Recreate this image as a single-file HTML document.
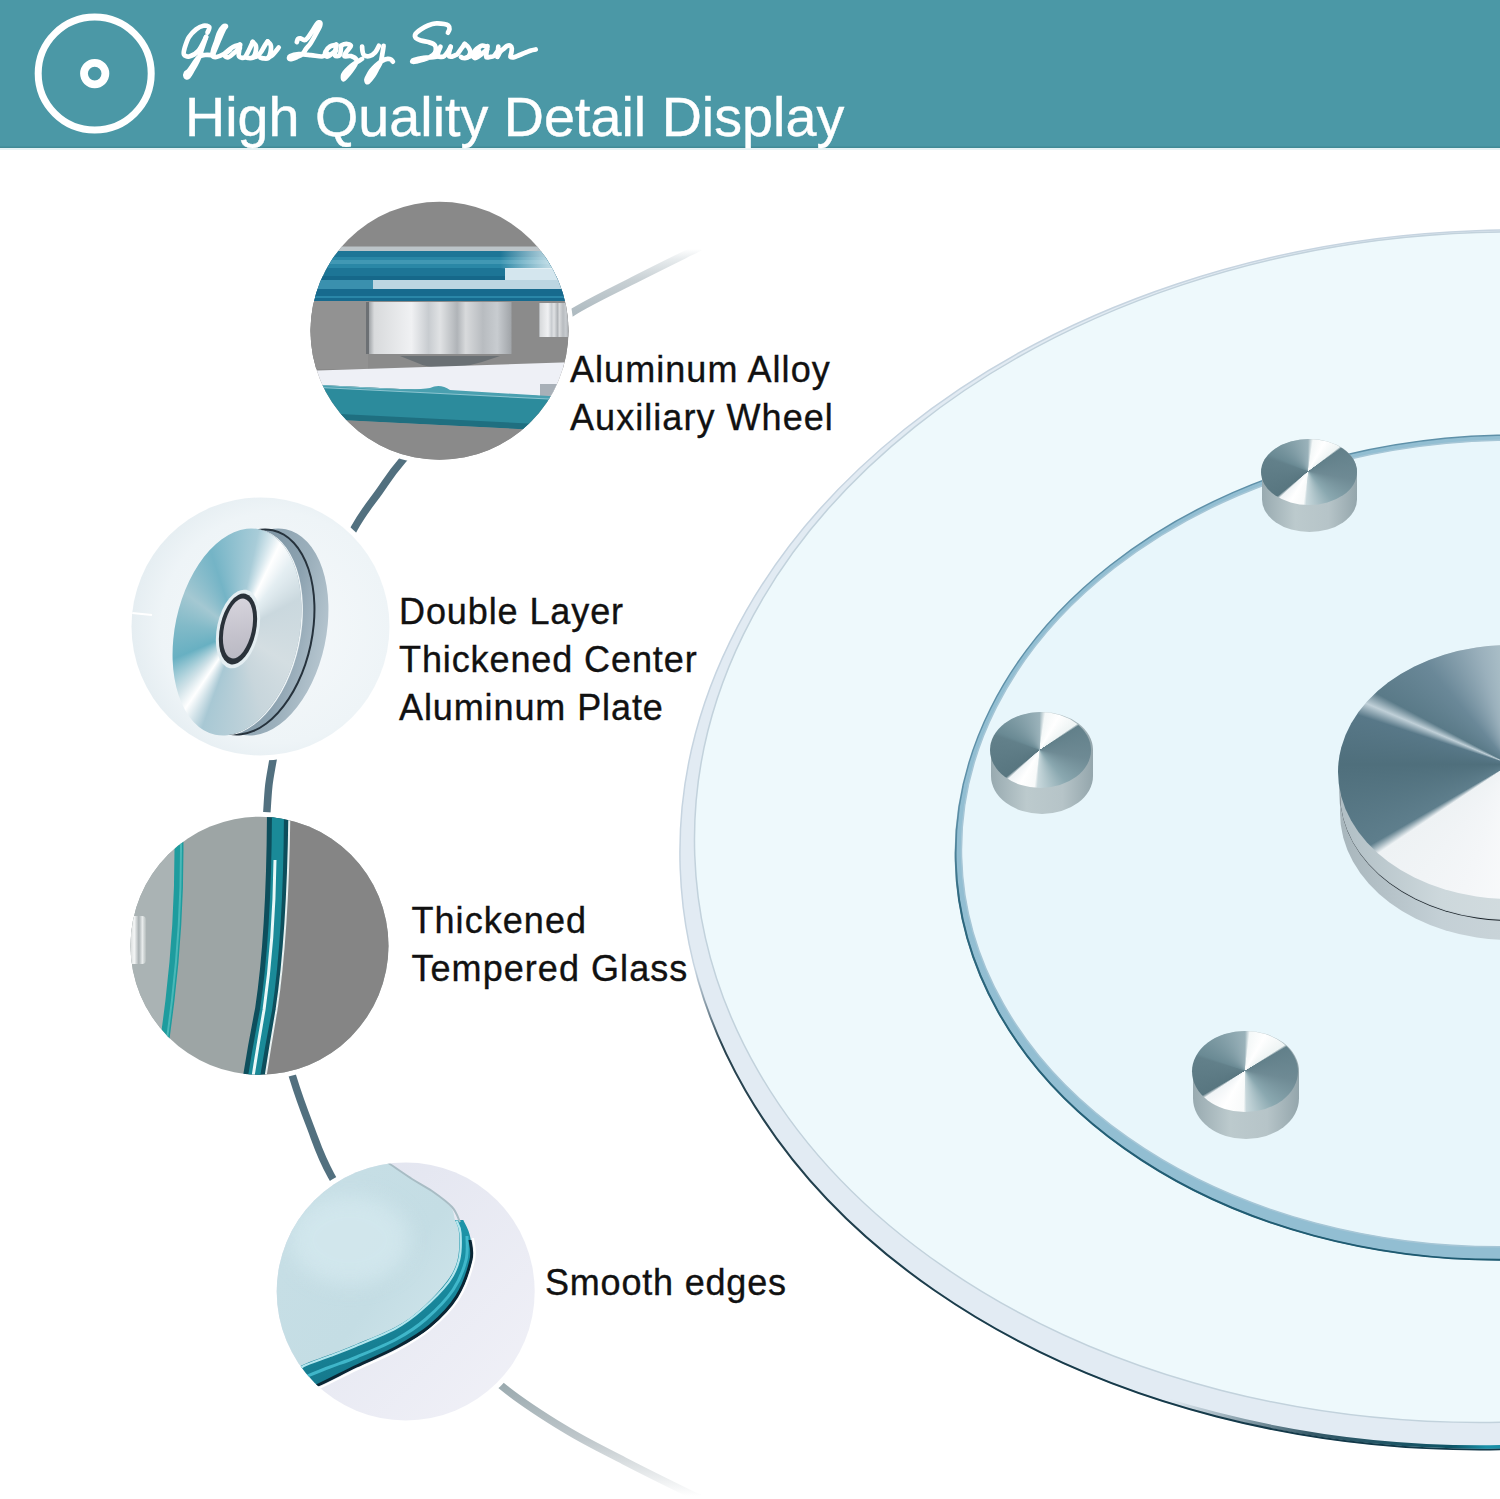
<!DOCTYPE html>
<html><head><meta charset="utf-8">
<style>
html,body{margin:0;padding:0;background:#fff;}
body{width:1500px;height:1499px;position:relative;overflow:hidden;font-family:"Liberation Sans",sans-serif;}
#hdr{position:absolute;left:0;top:0;width:1500px;height:148px;background:#4b98a6;box-shadow:inset 0 -1.5px 0 #418a96;}
#hdrline{position:absolute;left:0;top:148px;width:1500px;height:1.5px;background:#e6f2f4;}
#title{position:absolute;left:185px;top:85px;font-size:55.7px;color:#fff;white-space:nowrap;line-height:64px;-webkit-text-stroke:0.4px #fff;}
svg{position:absolute;left:0;top:0;}
.lbl{position:absolute;font-size:36px;color:#111;white-space:nowrap;line-height:48px;letter-spacing:0.8px;-webkit-text-stroke:0.35px #111;}
.el{position:absolute;border-radius:50%;}
</style></head>
<body>
<div id="hdr"></div>
<div id="hdrline"></div>
<svg width="1500" height="148" viewBox="0 0 1500 148" style="top:0">
  <circle cx="94.7" cy="73.6" r="56.5" fill="none" stroke="#fff" stroke-width="7"/>
  <circle cx="94.7" cy="73.6" r="10.7" fill="none" stroke="#fff" stroke-width="7.8"/>
  <g id="script" fill="none" stroke="#fff" stroke-width="4.7" stroke-linecap="round" stroke-linejoin="round"><path d="M207.5 32.5 C207.8 31.6 210.0 28.2 209.3 27.1 C208.6 26.0 205.6 25.3 203.4 25.7 C201.2 26.1 198.5 27.4 196.1 29.3 C193.7 31.2 190.9 34.0 189.0 37.0 C187.1 40.0 185.7 44.6 184.8 47.5 C184.0 50.4 183.2 52.8 183.9 54.3 C184.7 55.8 186.9 57.1 189.3 56.5 C191.7 55.9 195.6 54.0 198.4 50.7 C201.2 47.5 204.8 39.3 206.1 37.0"/><path d="M206.1 37.0 C205.4 39.0 203.4 45.0 202.0 49.0 C200.6 53.0 199.2 57.4 197.5 61.1 C195.8 64.8 193.6 68.3 192.0 71.0 C190.4 73.7 189.1 76.1 188.0 77.0 C186.9 77.9 186.0 77.2 185.7 76.5 C185.4 75.8 185.4 74.0 186.0 73.0 C186.6 72.0 187.2 72.8 189.3 70.2 C191.4 67.6 195.8 60.0 198.4 57.5 C201.0 55.0 202.5 55.4 205.0 55.0 C207.5 54.6 212.0 55.2 213.4 55.2"/><path d="M212.5 55.6 C213.6 53.1 216.9 45.1 218.8 40.7 C220.7 36.3 222.8 31.4 224.0 29.0 C225.2 26.6 226.1 26.6 226.0 26.2 C225.9 25.8 224.6 25.5 223.4 26.6 C222.2 27.7 220.2 30.6 219.0 33.0 C217.8 35.4 217.4 38.0 216.5 40.7 C215.6 43.4 214.2 46.5 213.5 49.0 C212.8 51.5 212.0 54.3 212.5 55.6 C213.0 56.9 214.7 57.2 216.5 57.0 C218.3 56.8 221.2 55.5 223.4 54.3 C225.7 53.1 228.9 50.7 230.0 50.0"/><path d="M239.9 44.9 C238.8 45.2 235.2 45.8 233.0 47.0 C230.8 48.2 227.9 50.6 226.5 52.0 C225.1 53.4 224.3 54.7 224.6 55.6 C224.9 56.5 226.8 57.7 228.4 57.3 C230.0 56.9 232.1 54.6 234.0 53.0 C235.9 51.4 238.9 48.8 239.9 47.9"/><path d="M240.2 44.5 C240.0 45.6 239.3 49.0 239.1 51.0 C238.9 53.0 238.2 55.5 239.1 56.5 C240.0 57.5 242.9 58.4 244.6 57.3 C246.2 56.2 247.7 52.5 249.0 50.0 C250.3 47.5 252.1 43.3 252.7 42.0"/><path d="M252.7 42.0 C253.2 42.5 254.9 43.9 255.5 45.0 C256.1 46.1 256.2 47.0 256.1 48.5 C256.0 50.0 255.6 52.5 255.0 54.0 C254.4 55.5 253.9 57.0 252.7 57.7 C251.5 58.4 249.1 58.1 248.0 58.0 C246.9 57.9 246.2 57.4 245.9 57.3"/><path d="M253.0 57.2 C253.7 57.0 255.7 57.1 257.0 56.2 C258.3 55.3 259.8 53.7 261.0 52.0 C262.2 50.3 263.4 47.8 264.5 46.0 C265.6 44.2 267.1 42.2 267.6 41.5"/><path d="M267.6 41.5 C268.1 42.0 269.9 43.3 270.5 44.5 C271.1 45.7 271.1 46.9 271.0 48.5 C270.9 50.1 270.5 52.4 270.0 54.0 C269.5 55.6 269.3 57.5 268.1 58.2 C266.9 58.9 264.3 58.4 263.0 58.3 C261.7 58.2 260.8 57.8 260.4 57.7"/><path d="M268.5 57.2 C269.1 56.9 270.8 56.5 272.0 55.5 C273.2 54.5 274.9 52.3 276.0 51.0 C277.1 49.7 278.2 48.1 278.7 47.5"/><path d="M296.8 42.1 C297.0 41.6 297.4 39.6 298.0 39.0 C298.6 38.4 299.4 38.1 300.5 38.3 C301.6 38.5 303.1 40.4 304.3 40.2 C305.6 40.1 306.6 39.1 308.0 37.4 C309.4 35.7 311.4 32.3 313.0 30.0 C314.6 27.7 316.1 24.6 317.3 23.4 C318.5 22.1 319.7 22.1 320.1 22.5 C320.6 22.9 320.5 24.4 320.0 26.0 C319.5 27.6 318.5 29.2 317.0 32.0 C315.5 34.8 312.6 40.2 310.8 43.0 C309.0 45.8 307.4 47.1 306.0 49.0 C304.6 50.9 303.9 52.9 302.4 54.2 C300.9 55.5 298.7 56.2 297.0 57.0 C295.3 57.8 293.3 58.6 292.0 58.9 C290.7 59.2 289.6 59.4 289.3 58.9 C289.0 58.4 288.7 56.9 290.3 56.1 C291.9 55.3 295.3 54.4 298.7 54.2 C302.1 54.0 306.9 54.7 310.8 55.1 C314.7 55.5 319.1 56.7 322.0 56.5 C324.9 56.3 327.0 54.4 328.0 54.0"/><path d="M336.0 44.9 C335.0 45.2 331.7 45.4 330.0 46.5 C328.3 47.6 326.4 49.9 325.7 51.4 C324.9 52.9 325.0 54.7 325.5 55.5 C326.0 56.3 326.8 56.9 328.5 56.1 C330.2 55.3 334.8 51.4 336.0 50.5"/><path d="M336.5 44.5 C336.3 45.4 335.8 48.2 335.5 50.0 C335.2 51.8 334.3 54.6 335.0 55.5 C335.7 56.4 338.7 56.5 339.7 55.1 C340.7 53.7 340.8 48.4 341.0 47.0"/><path d="M340.7 45.8 C341.2 45.5 342.9 44.6 344.0 44.3 C345.1 44.0 346.1 43.8 347.2 44.0 C348.3 44.2 350.9 44.6 350.9 45.8 C350.9 47.0 348.1 49.3 347.0 51.0 C345.9 52.7 343.8 55.2 344.4 56.1 C345.0 57.0 348.9 55.5 350.9 56.1 C352.9 56.7 355.8 58.3 356.5 59.8 C357.2 61.3 355.9 63.1 355.0 65.0 C354.1 66.9 352.4 69.0 350.9 71.0 C349.4 73.0 347.2 75.6 346.0 77.0 C344.8 78.4 344.0 79.6 343.5 79.4 C343.0 79.2 342.9 77.1 343.0 76.0 C343.1 74.9 343.4 74.2 344.4 72.9 C345.4 71.6 347.3 69.6 349.0 68.0 C350.7 66.4 352.5 65.0 354.7 63.5 C356.9 62.0 360.9 59.7 362.1 58.9"/><path d="M362.1 46.7 C362.2 47.4 362.2 49.6 362.5 51.0 C362.8 52.4 362.8 54.2 364.0 55.1 C365.2 56.0 367.7 56.6 369.6 56.1 C371.5 55.6 373.6 54.0 375.2 52.3 C376.8 50.6 378.3 46.9 378.9 45.8"/><path d="M383.6 45.8 C383.4 47.0 383.0 50.4 382.5 53.0 C382.0 55.6 381.7 59.0 380.8 61.7 C379.9 64.4 378.2 66.7 377.0 69.0 C375.8 71.3 374.5 73.9 373.3 75.7 C372.1 77.5 370.9 78.9 370.0 80.0 C369.1 81.1 368.3 82.1 367.7 82.2 C367.1 82.3 366.6 81.1 366.5 80.5 C366.4 79.9 366.1 80.1 366.8 78.5 C367.6 76.9 369.4 73.2 371.0 71.0 C372.6 68.8 374.3 67.1 376.1 65.4 C377.9 63.7 380.1 62.1 382.0 61.0 C383.9 59.9 385.8 59.1 387.3 58.9 C388.8 58.6 390.1 59.0 391.0 59.5 C391.9 60.0 392.6 61.3 392.9 61.7"/><path d="M447.9 32.7 C448.2 32.1 449.4 30.2 449.5 29.0 C449.6 27.8 449.2 26.3 448.3 25.5 C447.4 24.7 446.3 24.4 444.2 24.0 C442.1 23.6 438.5 23.1 435.8 23.4 C433.1 23.6 430.5 24.5 428.0 25.5 C425.5 26.5 422.8 28.1 420.7 29.5 C418.6 30.9 416.3 32.6 415.5 34.0 C414.7 35.4 414.9 36.9 415.8 38.0 C416.7 39.1 418.9 39.8 421.0 40.5 C423.1 41.2 426.2 41.5 428.3 42.1 C430.4 42.7 432.2 43.1 433.5 44.0 C434.8 44.9 435.6 46.0 435.8 47.5 C436.0 49.0 435.9 51.4 434.9 53.0 C433.9 54.6 431.9 55.9 430.0 57.0 C428.1 58.1 426.0 58.9 423.7 59.6 C421.4 60.4 417.9 61.1 416.0 61.5 C414.1 61.9 412.8 62.0 412.5 61.7 C412.2 61.5 412.1 60.6 414.0 60.0 C415.9 59.4 420.2 58.4 423.7 57.9 C427.2 57.4 432.6 57.3 434.9 57.0 C437.2 56.7 437.2 56.4 437.7 56.3"/><path d="M440.5 46.7 C440.2 47.5 439.0 49.9 438.5 51.5 C438.0 53.1 437.3 55.2 437.7 56.1 C438.1 57.0 439.9 56.8 441.0 56.8 C442.1 56.8 443.0 57.0 444.2 56.1 C445.4 55.2 446.9 53.1 448.0 51.5 C449.1 49.9 450.2 47.5 450.7 46.7"/><path d="M450.7 46.7 C450.5 47.5 449.6 49.9 449.3 51.5 C449.0 53.1 448.4 55.2 448.9 56.1 C449.3 57.0 450.9 56.8 452.0 56.6 C453.1 56.4 454.5 55.5 455.4 55.1 C456.3 54.7 456.4 55.2 457.3 54.2 C458.2 53.2 459.8 50.7 461.0 49.0 C462.2 47.3 464.1 44.8 464.7 43.9"/><path d="M464.7 43.9 C465.3 44.4 467.3 45.7 468.2 47.0 C469.1 48.3 470.1 50.1 470.3 51.5 C470.5 52.9 469.9 54.4 469.3 55.5 C468.7 56.6 467.7 57.5 466.6 57.9 C465.6 58.3 463.9 58.1 463.0 58.0 C462.1 57.9 461.3 57.2 461.0 57.0"/><path d="M466.5 57.5 C467.1 57.3 468.7 56.8 470.3 56.3 C471.9 55.8 474.4 55.1 475.9 54.2 C477.3 53.3 478.5 51.5 479.0 51.0"/><path d="M487.1 46.7 C486.3 46.5 483.7 45.5 482.5 45.5 C481.3 45.5 480.9 46.0 479.7 46.7 C478.5 47.5 476.6 48.8 475.5 50.0 C474.4 51.2 473.4 53.0 473.1 54.2 C472.9 55.5 473.5 56.9 474.0 57.5 C474.5 58.1 474.7 58.4 475.9 57.9 C477.1 57.4 479.1 55.9 481.0 54.5 C482.9 53.1 486.1 50.3 487.1 49.5"/><path d="M487.5 46.0 C487.4 47.0 486.8 50.2 486.6 52.0 C486.4 53.8 485.6 56.2 486.2 57.0 C486.8 57.8 488.8 57.1 490.0 57.0 C491.2 56.9 492.5 56.9 493.7 56.1 C494.9 55.3 496.4 52.7 497.0 52.0"/><path d="M498.3 46.7 C498.2 47.6 498.0 50.3 497.8 52.0 C497.6 53.7 497.0 57.0 497.4 57.0 C497.8 57.0 498.9 53.4 500.0 52.0 C501.1 50.6 502.7 49.6 503.9 48.6 C505.1 47.6 505.9 46.5 507.0 46.0 C508.1 45.5 509.7 45.4 510.5 45.8 C511.3 46.2 511.7 47.4 511.8 48.5 C511.9 49.6 511.6 50.9 511.4 52.3 C511.2 53.7 510.1 56.2 510.5 57.0 C510.9 57.8 512.9 57.4 514.0 57.3 C515.1 57.1 515.7 56.6 517.0 56.1 C518.3 55.6 520.5 54.6 522.0 54.0 C523.5 53.4 524.8 52.9 526.3 52.3 C527.8 51.7 529.4 51.0 531.0 50.5 C532.6 50.0 534.9 49.7 535.7 49.5"/></g>
</svg>
<div id="title">High Quality Detail Display</div>

<svg id="g" width="1500" height="1499" viewBox="0 0 1500 1499" style="top:0">
  <defs>
    <linearGradient id="arcg" x1="0" y1="249" x2="0" y2="1496" gradientUnits="userSpaceOnUse">
      <stop offset="0" stop-color="#ffffff"/>
      <stop offset="0.008" stop-color="#e8ecee"/>
      <stop offset="0.025" stop-color="#c8d0d4"/>
      <stop offset="0.05" stop-color="#b0bcc2"/>
      <stop offset="0.16" stop-color="#6a8494"/>
      <stop offset="0.17" stop-color="#52707f"/>
      <stop offset="0.75" stop-color="#52707f"/>
      <stop offset="0.9" stop-color="#92a3a8"/>
      <stop offset="0.955" stop-color="#c0c8cc"/>
      <stop offset="1" stop-color="#ffffff"/>
    </linearGradient>
    <linearGradient id="edg" x1="0" y1="940" x2="0" y2="1454" gradientUnits="userSpaceOnUse"><stop offset="0" stop-color="#5a7080" stop-opacity="0"/><stop offset="0.15" stop-color="#2a4450"/><stop offset="1" stop-color="#123848"/></linearGradient>
    <linearGradient id="spot" x1="0" y1="0" x2="1" y2="0"><stop offset="0" stop-color="#c8cccc"/><stop offset="0.35" stop-color="#f4f6f6"/><stop offset="0.6" stop-color="#a8b0b2"/><stop offset="0.8" stop-color="#e8ecec"/><stop offset="1" stop-color="#b4bcbc"/></linearGradient>
    <linearGradient id="c4band" x1="0" y1="0" x2="0.3" y2="1"><stop offset="0" stop-color="#229cb0"/><stop offset="0.5" stop-color="#1a8ea2"/><stop offset="1" stop-color="#147488"/></linearGradient>
    <filter id="blur8" x="-50%" y="-50%" width="200%" height="200%"><feGaussianBlur stdDeviation="10"/></filter>
    <linearGradient id="iedg" x1="0" y1="760" x2="0" y2="1262" gradientUnits="userSpaceOnUse"><stop offset="0" stop-color="#5e90a8" stop-opacity="0"/><stop offset="0.25" stop-color="#2e687e"/><stop offset="1" stop-color="#1e5a70"/></linearGradient>
    <linearGradient id="tealg" x1="1150" y1="0" x2="1500" y2="0" gradientUnits="userSpaceOnUse"><stop offset="0" stop-color="#0c3646" stop-opacity="0"/><stop offset="0.4" stop-color="#0c3646" stop-opacity="0.8"/><stop offset="0.8" stop-color="#0d5466"/><stop offset="0.9" stop-color="#1890a8"/><stop offset="1" stop-color="#1a8aa2"/></linearGradient>
    <clipPath id="brclip"><rect x="1100" y="1300" width="450" height="200"/></clipPath>
    <linearGradient id="c1fade" x1="0" y1="0" x2="1" y2="0"><stop offset="0" stop-color="#ffffff" stop-opacity="0"/><stop offset="0.6" stop-color="#e8f2f6" stop-opacity="0.75"/><stop offset="1" stop-color="#ffffff" stop-opacity="0.9"/></linearGradient>
    <clipPath id="c1"><circle cx="439.5" cy="330.8" r="129"/></clipPath>
    <clipPath id="c2"><circle cx="260.5" cy="626.5" r="129"/></clipPath>
    <clipPath id="c3"><circle cx="259.5" cy="945.7" r="129"/></clipPath>
    <clipPath id="c4"><circle cx="405.7" cy="1291.5" r="129"/></clipPath>
    <linearGradient id="wheel" x1="0" x2="1" y1="0" y2="0">
      <stop offset="0" stop-color="#9a9ea2"/>
      <stop offset="0.04" stop-color="#d8dadc"/>
      <stop offset="0.3" stop-color="#f0f1f3"/>
      <stop offset="0.42" stop-color="#c8ccd0"/>
      <stop offset="0.5" stop-color="#e0e2e4"/>
      <stop offset="0.62" stop-color="#b0b4b8"/>
      <stop offset="0.68" stop-color="#d8dadc"/>
      <stop offset="0.8" stop-color="#b8bcc0"/>
      <stop offset="0.9" stop-color="#c8ccd0"/>
      <stop offset="1" stop-color="#a0a4a8"/>
    </linearGradient>
    <radialGradient id="c2bg" cx="0.55" cy="0.5" r="0.6">
      <stop offset="0" stop-color="#f6f9fb"/>
      <stop offset="0.7" stop-color="#eef4f7"/>
      <stop offset="1" stop-color="#dfe9ee"/>
    </radialGradient>
    <linearGradient id="c4bg" x1="0" y1="0" x2="1" y2="1">
      <stop offset="0" stop-color="#dfe2ee"/>
      <stop offset="1" stop-color="#f2f2f8"/>
    </linearGradient>
    <linearGradient id="c4gl" x1="0" y1="0" x2="1" y2="1">
      <stop offset="0" stop-color="#c8dfe6"/>
      <stop offset="0.6" stop-color="#c4dde4"/>
      <stop offset="1" stop-color="#d4e8ee"/>
    </linearGradient>
  </defs>
  <!-- big plate -->
  <g transform="rotate(-2 1497.7 839.7)">
  <ellipse cx="1497.7" cy="839.7" rx="818" ry="609.4" fill="#e2ebf3" stroke="#c6d4e0" stroke-width="1.5"/>
  <ellipse cx="1497.7" cy="839.7" rx="818" ry="609.4" fill="none" stroke="url(#edg)" stroke-width="2"/>
  <ellipse cx="1497.7" cy="838.2" rx="817" ry="608.4" fill="none" stroke="url(#tealg)" stroke-width="3.5" clip-path="url(#brclip)"/>
  <ellipse cx="1498.2" cy="827.2" rx="803.5" ry="595" fill="#eef9fc" stroke="#c2d2dc" stroke-width="1.5"/>
  </g>
  <!-- inner plate -->
  <g transform="rotate(-1.4 1507.3 847.4)">
  <ellipse cx="1507.3" cy="847.4" rx="551.8" ry="412.3" fill="#92bed2" stroke="#5e90a8" stroke-width="1.5"/>
  <ellipse cx="1507.3" cy="847.4" rx="551.8" ry="412.3" fill="none" stroke="url(#iedg)" stroke-width="2"/>
  <ellipse cx="1507.8" cy="843.4" rx="546.3" ry="403.3" fill="#e8f6fb" stroke="#a6c6d6" stroke-width="1.5"/>
  </g>
  <!-- arc -->
  <path d="M700.0 247.0 C698.3 247.8 701.7 246.2 690.0 252.0 C678.3 257.8 649.5 272.0 630.0 282.0 C610.5 292.0 592.2 300.4 573.0 312.0 C553.8 323.6 534.5 336.2 514.7 351.7 C494.9 367.2 472.9 387.1 454.2 405.2 C435.5 423.3 415.0 445.7 402.5 460.2 C390.0 474.7 387.0 480.7 379.0 492.0 C371.0 503.3 363.8 511.1 354.4 528.0 C345.0 544.9 333.0 569.1 322.4 593.4 C311.8 617.7 299.2 646.2 291.0 674.0 C282.8 701.8 277.0 737.3 273.0 760.0 C269.0 782.7 268.7 781.5 267.0 810.0 C265.3 838.5 261.6 897.3 262.9 930.7 C264.2 964.1 269.9 986.1 274.9 1010.5 C279.9 1034.9 286.9 1058.0 292.8 1077.2 C298.7 1096.5 303.6 1109.6 310.0 1126.0 C316.4 1142.4 319.5 1154.6 331.2 1175.7 C342.9 1196.8 362.2 1227.8 380.0 1252.5 C397.8 1277.2 417.9 1302.0 438.1 1324.2 C458.3 1346.4 480.1 1368.1 501.3 1385.6 C522.5 1403.1 544.8 1416.8 565.3 1429.3 C585.8 1441.8 603.5 1450.2 624.0 1460.8 C644.5 1471.4 675.3 1486.6 688.0 1492.8 C700.7 1499.0 698.0 1497.1 700.0 1498.0" fill="none" stroke="url(#arcg)" stroke-width="7.5"/>
  <!-- white halos -->
  <circle cx="439.5" cy="330.8" r="134" fill="#fff"/>
  <circle cx="260.5" cy="626.5" r="134" fill="#fff"/>
  <circle cx="259.5" cy="945.7" r="134" fill="#fff"/>
  <circle cx="405.7" cy="1291.5" r="134" fill="#fff"/>

  <!-- circle 1 -->
  <g clip-path="url(#c1)">
    <rect x="300" y="195" width="280" height="280" fill="#898989"/>
    <rect x="300" y="246.5" width="280" height="5" fill="#bcc4c8"/>
    <rect x="300" y="251" width="280" height="50" fill="#1d7596"/>
    <rect x="300" y="257" width="280" height="11" fill="#2a87a6"/>
    <rect x="300" y="260" width="280" height="4" fill="#4c9fba" opacity="0.7"/>
    <rect x="300" y="276" width="280" height="4" fill="#16688a"/>
    <rect x="373" y="280" width="200" height="9" fill="#bcd6e2"/>
    <rect x="300" y="280" width="73" height="9" fill="#3a90ae"/>
    <rect x="505" y="268" width="70" height="12" fill="#d4e6ee"/>
    <rect x="300" y="289" width="280" height="12" fill="#176a8e"/>
    <rect x="300" y="296" width="280" height="2" fill="#2a86a8"/>
    <rect x="500" y="251" width="80" height="18" fill="url(#c1fade)"/>
    <rect x="300" y="301" width="280" height="68" fill="#8b8b8b"/>
    <rect x="300" y="301" width="68" height="68" fill="#929292"/>
    <rect x="368.5" y="302" width="143" height="52" fill="url(#wheel)"/>
    <rect x="366" y="302" width="3" height="52" fill="#6c7074"/>
    <rect x="539" y="303" width="30" height="34" fill="url(#wheel)"/>
    <path d="M 400 356 L 500 356 L 482 362 Q 440 374 415 362 Z" fill="#6a7074"/>
    <polygon points="300,371 580,362 580,398 300,384" fill="#eef0f6"/>
    <polygon points="540,384 565,384 565,405 540,405" fill="#a8b0b8"/>
    <polygon points="300,384 580,398 580,432 300,418" fill="#2c8b9c"/>
    <polygon points="300,384 580,398 580,401 300,387" fill="#8cc4d0"/>
    <path d="M 300 384 Q 410 392 430 388 Q 440 383 450 390 L 580 398 L 580 400 L 300 386 Z" fill="#4aa0b0"/>
    <polygon points="300,412 580,426 580,432 300,418" fill="#1f6f80"/>
    <polygon points="300,418 580,432 580,475 300,475" fill="#8a8a8a"/>
  </g>

  <!-- circle 2 -->
  <g clip-path="url(#c2)">
    <rect x="125" y="490" width="275" height="275" fill="url(#c2bg)"/>
    <path d="M 131 626 A 129 129 0 0 1 389 626" fill="none" stroke="#e2ecf0" stroke-width="0"/>
    <line x1="132" y1="613" x2="152" y2="615" stroke="#ffffff" stroke-width="2"/>
  </g>

  <!-- circle 3 -->
  <g clip-path="url(#c3)">
    <rect x="125" y="810" width="275" height="275" fill="#9da5a5"/>
    <path d="M 120 800 L 178 800 Q 182 900 170 1000 Q 165 1040 158 1090 L 120 1090 Z" fill="#aab3b4"/>
    <path d="M 178 800 Q 182 900 170 1000 Q 165 1040 158 1090" fill="none" stroke="#1e9c9e" stroke-width="9"/>
    <path d="M 178 800 Q 182 900 170 1000 Q 165 1040 158 1090" fill="none" stroke="#4ab8b8" stroke-width="2" transform="translate(2,0)"/>
    <path d="M 288 800 Q 287 930 275 1010 Q 268 1050 262 1090 L 420 1090 L 420 800 Z" fill="#858585"/>
    <path d="M 278 800 Q 278 930 266 1010 Q 258 1050 252 1090" fill="none" stroke="#0d4e5c" stroke-width="22"/>
    <path d="M 278 800 Q 278 930 266 1010 Q 258 1050 252 1090" fill="none" stroke="#1a8a98" stroke-width="12"/>
    <path d="M 275 860 Q 274 940 264 1010 Q 257 1050 251 1090" fill="none" stroke="#e8f8f8" stroke-width="3"/>
    <path d="M 289.5 800 Q 288.5 930 276.5 1010 Q 269.5 1050 263.5 1090" fill="none" stroke="#e8f0f0" stroke-width="2"/>
    <rect x="128" y="916" width="18" height="48" rx="4" fill="url(#spot)"/>
  </g>

  <!-- circle 4 -->
  <g clip-path="url(#c4)">
    <rect x="270" y="1155" width="275" height="275" fill="url(#c4bg)"/>
    <path d="M 270 1140 L 372 1140 L 372 1155 C374.4 1156.2 379.8 1158.0 386.5 1162.0 C393.2 1166.0 404.4 1174.2 412.0 1179.0 C419.6 1183.8 425.6 1186.4 432.0 1191.0 C438.4 1195.6 446.7 1202.0 450.5 1206.8 C454.3 1211.6 453.6 1215.6 455.0 1220.0 C456.4 1224.4 458.6 1226.5 459.0 1233.0 C459.4 1239.5 459.6 1251.1 457.7 1259.0 C455.8 1266.9 453.5 1272.2 447.5 1280.5 C441.5 1288.8 430.2 1300.8 421.5 1308.5 C412.8 1316.2 406.5 1321.0 395.5 1327.0 C384.5 1333.0 366.6 1339.8 355.7 1344.4 C344.8 1349.0 338.7 1351.2 330.0 1354.5 C321.3 1357.8 309.0 1362.0 303.7 1364.4 C298.4 1366.8 298.9 1368.2 298.0 1369.0 L 270 1385 Z" fill="url(#c4gl)"/>
    <ellipse cx="350" cy="1240" rx="60" ry="45" fill="#d6eaf0" opacity="0.7" filter="url(#blur8)"/>
    <path d="M298.0 1393.0 C301.6 1391.7 309.5 1389.7 319.3 1385.3 C329.1 1380.9 343.8 1372.9 356.7 1366.7 C369.6 1360.5 384.5 1354.7 396.7 1348.0 C408.9 1341.3 420.0 1335.2 430.0 1326.7 C440.0 1318.2 449.8 1308.4 456.7 1297.3 C463.6 1286.2 469.1 1270.2 471.3 1260.0 C473.5 1249.8 471.3 1242.7 470.0 1236.0 C468.7 1229.3 464.4 1222.7 463.3 1220.0 L 455 1220 C455.7 1222.2 458.6 1226.5 459.0 1233.0 C459.4 1239.5 459.6 1251.1 457.7 1259.0 C455.8 1266.9 453.5 1272.2 447.5 1280.5 C441.5 1288.8 430.2 1300.8 421.5 1308.5 C412.8 1316.2 406.5 1321.0 395.5 1327.0 C384.5 1333.0 366.6 1339.8 355.7 1344.4 C344.8 1349.0 338.7 1351.2 330.0 1354.5 C321.3 1357.8 309.0 1362.0 303.7 1364.4 C298.4 1366.8 298.9 1368.2 298.0 1369.0 Z" fill="url(#c4band)"/>
    <path d="M305.0 1377.0 C309.2 1375.3 321.4 1370.3 330.0 1367.0 C338.6 1363.7 345.6 1361.7 356.7 1357.0 C367.8 1352.3 385.1 1345.3 396.7 1339.0 C408.2 1332.7 416.6 1327.2 426.0 1319.0 C435.4 1310.8 446.3 1299.8 453.0 1290.0 C459.7 1280.2 463.7 1269.0 466.0 1260.0 C468.3 1251.0 466.8 1240.0 467.0 1236.0" fill="none" stroke="#46c0d2" stroke-width="3" opacity="0.85"/>
    <path d="M300.0 1370.5 C300.6 1369.7 298.7 1368.3 303.7 1365.9 C308.7 1363.5 321.3 1359.3 330.0 1356.0 C338.7 1352.7 344.8 1350.5 355.7 1345.9 C366.6 1341.3 384.5 1334.5 395.5 1328.5 C406.5 1322.5 412.6 1317.8 421.5 1310.0 C430.4 1302.2 442.5 1290.2 448.8 1281.8 C455.1 1273.4 457.2 1267.6 459.2 1259.5 C461.1 1251.4 460.9 1239.5 460.5 1233.0 C460.1 1226.5 457.2 1222.6 456.5 1220.5" fill="none" stroke="#b4e6ee" stroke-width="2.2"/>
    <path d="M300.0 1392.0 C303.2 1390.8 309.9 1388.8 319.3 1384.5 C328.8 1380.2 343.8 1372.2 356.7 1366.0 C369.6 1359.8 384.5 1354.0 396.7 1347.3 C408.9 1340.6 420.0 1334.5 430.0 1326.0 C440.0 1317.5 449.9 1307.6 456.7 1296.6 C463.5 1285.6 468.8 1269.4 471.0 1260.0 C473.2 1250.6 470.2 1243.3 470.0 1240.0" fill="none" stroke="#0a2634" stroke-width="3"/>
    <path d="M300.0 1395.5 C303.2 1394.2 309.9 1392.3 319.3 1388.0 C328.8 1383.7 343.8 1375.7 356.7 1369.5 C369.6 1363.3 384.5 1357.5 396.7 1350.8 C408.9 1344.1 419.7 1338.1 430.0 1329.5 C440.3 1320.9 451.4 1310.6 458.7 1299.0 C466.0 1287.4 471.6 1270.2 474.0 1260.0 C476.4 1249.8 473.2 1241.7 473.0 1238.0" fill="none" stroke="#ffffff" stroke-width="2"/>
    <path d="M460.0 1222.0 C458.7 1219.5 456.7 1212.2 452.0 1207.0 C447.3 1201.8 438.7 1195.7 432.0 1191.0 C425.3 1186.3 419.6 1183.8 412.0 1179.0 C404.4 1174.2 393.2 1166.0 386.5 1162.0 C379.8 1158.0 374.4 1156.2 372.0 1155.0" fill="none" stroke="#a8bcc4" stroke-width="2"/>
  </g>
</svg>

<!-- circle 2 disc (css) -->
<div class="el" style="left:202px;top:526.5px;width:124px;height:210px;transform:rotate(12deg);background:linear-gradient(90deg,#7c94a4,#9cb0bc 75%,#b4c4ce);"></div>
<div class="el" style="left:188.5px;top:526.5px;width:124px;height:210px;transform:rotate(12deg);border:2.5px solid #26323c;box-sizing:border-box;background:linear-gradient(90deg,#6c8494,#8ca2b0 80%,#a4b6c2);"></div>
<div class="el" style="left:175px;top:526.5px;width:124px;height:210px;transform:rotate(12deg);box-shadow:1.5px 0 0 #eef4f6;background:conic-gradient(from 0deg,#a8ccd8 0deg,#d8e8ee 8deg,#ffffff 14deg,#e4eef2 26deg,#cad8de 50deg,#d4dee2 110deg,#c8d6dc 150deg,#a8c8d4 188deg,#ffffff 202deg,#d0e2e8 212deg,#68b0c2 235deg,#82bac8 265deg,#a4c8d2 295deg,#74b4c6 330deg,#a8ccd8 360deg);"></div>
<div class="el" style="left:216.5px;top:588.5px;width:42px;height:80px;transform:rotate(12deg);background:#e4eef2;"></div>
<div class="el" style="left:219.5px;top:592.5px;width:36px;height:72px;transform:rotate(12deg);background:#2a323a;"></div>
<div class="el" style="left:223.5px;top:598px;width:28px;height:61px;transform:rotate(12deg);background:linear-gradient(160deg,#d8d6de,#c4c2cc 60%,#b8b8c2);"></div>

<!-- hub -->
<div class="el" style="left:1340px;top:666px;width:340px;height:274px;border-radius:50% / 127px;background:linear-gradient(90deg,#a8b6bc,#c4d0d6 30%,#ccd6da 60%,#b4c2c8);"></div>
<div class="el" style="left:1339px;top:645px;width:342px;height:274px;border-radius:50% / 127px;background:linear-gradient(90deg,#b0bec4,#cdd8dc 30%,#d4dde0 60%,#bcc8cc);"></div>
<div class="el" style="left:1340px;top:667px;width:340px;height:254px;border-bottom:1.5px solid #1a2228;box-sizing:border-box;background:transparent;"></div>
<div class="el" style="left:1338px;top:645px;width:344px;height:254px;background:conic-gradient(from 0deg at 50% 47%,#b0c4cc 0deg,#e0e8ec 30deg,#f4f6f8 90deg,#ffffff 150deg,#f4f6f8 200deg,#eef2f4 236deg,#5e7e8c 240deg,#4f6f7c 270deg,#587888 288deg,#c0d0d8 293deg,#5a7a88 298deg,#6a8898 320deg,#9ab0bc 345deg,#b0c4cc 360deg);"></div>

<!-- knobs -->
<div class="el" style="left:1261.5px;top:439px;width:95.5px;height:93px;border-radius:50% / 33px;background:linear-gradient(90deg,#98aab0,#bccacd 35%,#b6c4c8 70%,#94a6ac);"></div>
<div class="el" style="left:1261px;top:439px;width:96px;height:66px;background:conic-gradient(from 0deg at 49% 49%,#9ab2ba 0deg,#f4f8f8 9deg,#ffffff 30deg,#eef4f4 52deg,#62808a 55deg,#6e8a94 100deg,#8aa8b0 140deg,#c8d8dc 183deg,#f8fafa 188deg,#ffffff 210deg,#f0f4f6 227deg,#587680 231deg,#62808a 288deg,#6a8a94 294deg,#9ab2ba 360deg);"></div>

<div class="el" style="left:990.5px;top:712px;width:102px;height:102px;border-radius:50% / 38px;background:linear-gradient(90deg,#98aab0,#bccacd 35%,#b6c4c8 70%,#94a6ac);"></div>
<div class="el" style="left:990px;top:712px;width:101px;height:76px;background:conic-gradient(from 0deg at 49% 50%,#9ab2ba 0deg,#f4f8f8 9deg,#ffffff 30deg,#eef4f4 55deg,#62808a 58deg,#6e8a94 100deg,#8aa8b0 140deg,#c8d8dc 183deg,#f8fafa 188deg,#ffffff 210deg,#f0f4f6 227deg,#587680 231deg,#62808a 288deg,#6a8a94 294deg,#9ab2ba 360deg);"></div>

<div class="el" style="left:1192.5px;top:1031px;width:106px;height:108px;border-radius:50% / 40.5px;background:linear-gradient(90deg,#98aab0,#bccacd 35%,#b6c4c8 70%,#94a6ac);"></div>
<div class="el" style="left:1192px;top:1031px;width:106px;height:81px;background:conic-gradient(from 0deg at 50% 49%,#9ab2ba 0deg,#f4f8f8 7deg,#ffffff 30deg,#eef4f4 57deg,#62808a 60deg,#6e8a94 100deg,#8aa8b0 140deg,#c8d8dc 178deg,#f8fafa 182deg,#ffffff 210deg,#f0f4f6 236deg,#587680 240deg,#62808a 286deg,#6a8a94 290deg,#9ab2ba 360deg);"></div>

<div class="lbl" style="left:570px;top:346px;letter-spacing:1.05px;">Aluminum Alloy<br>Auxiliary Wheel</div>
<div class="lbl" style="left:399px;top:588px;letter-spacing:0.9px;">Double Layer<br>Thickened Center<br>Aluminum Plate</div>
<div class="lbl" style="left:411.5px;top:896.5px;letter-spacing:1.05px;">Thickened<br>Tempered Glass</div>
<div class="lbl" style="left:545px;top:1259px;">Smooth edges</div>
</body></html>
